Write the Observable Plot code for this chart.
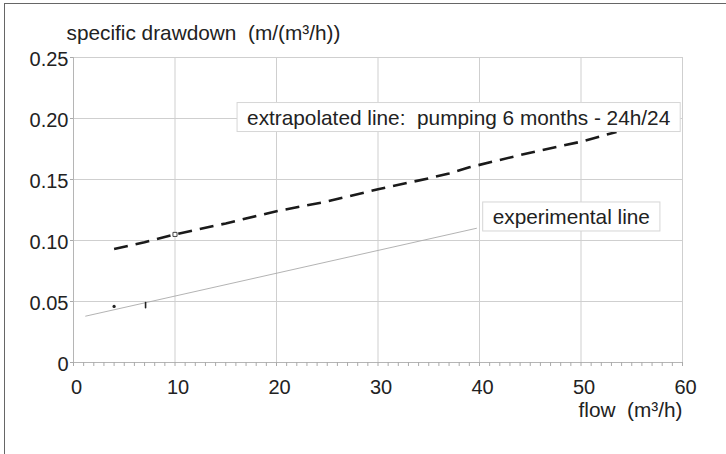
<!DOCTYPE html>
<html>
<head>
<meta charset="utf-8">
<script src="https://cdn.jsdelivr.net/npm/d3@7"></script>
<script src="https://cdn.jsdelivr.net/npm/@observablehq/plot@0.6"></script>
<style>
  html, body { margin: 0; padding: 0; background: #fff; overflow: hidden; width: 726px; height: 454px; }
  #wrap { position: relative; width: 726px; height: 454px; }
  #frame { position: absolute; left: 4px; top: 3px; width: 800px; height: 600px; border: 1.5px solid #666; box-sizing: border-box; pointer-events: none; }
  #chart { position: absolute; left: 0; top: 0; }
</style>
</head>
<body>
<div id="wrap"><div id="chart"></div><div id="frame"></div></div>
<script>
// Extrapolated line (pumping 6 months - 24h/24)
const extrapX = [4, 7, 10, 15, 20, 25, 30, 35, 37, 39, 45, 50, 53.5];
const extrapY = [0.093, 0.0985, 0.105, 0.114, 0.124, 0.132, 0.142, 0.151, 0.155, 0.160, 0.172, 0.181, 0.189];
// Experimental line
const expLineX = [1.2, 39.7];
const expLineY = [0.038, 0.110];
// Measured points
const pointDotX = [4];
const pointDotY = [0.046];
const pointTickX = [7.1];
const pointTickY = [0.047];
const markX = [10];
const markY = [0.105];
// Ticks
const xTicks = [0, 10, 20, 30, 40, 50, 60];
const xMinorTicks = d3.range(0, 61, 1);
const yTicks = [0, 0.05, 0.10, 0.15, 0.20, 0.25];
// Labels
const yTitle = "specific drawdown  (m/(m³/h))";
const xTitle = "flow  (m³/h)";
const annLabels = ["extrapolated line:  pumping 6 months - 24h/24", "experimental line"];
const annX = [17.1, 41.3];
const annY = [0.2005, 0.119];

const extrap = extrapX.map((x, i) => ({x, y: extrapY[i]}));
const expLine = expLineX.map((x, i) => ({x, y: expLineY[i]}));
const dots = pointDotX.map((x, i) => ({x, y: pointDotY[i]}));
const ticksP = pointTickX.map((x, i) => ({x, y: pointTickY[i]}));
const marks = markX.map((x, i) => ({x, y: markY[i]}));
const anns = annLabels.map((t, i) => ({t, x: annX[i], y: annY[i]}));

const fmtY = d => d === 0 ? "0" : d.toFixed(2);
const gridColor = "#cfcfcf";
const labelSize = 20.8;

const chart = Plot.plot({
  width: 726,
  height: 454,
  marginLeft: 73,
  marginRight: 44,
  marginTop: 57,
  marginBottom: 92,
  x: {domain: [0, 60], label: null},
  y: {domain: [0, 0.25], label: null},
  style: {fontFamily: "'Liberation Sans', Arial, sans-serif", fontSize: "20px", color: "#222", background: "transparent"},
  marks: [
    Plot.gridX(xTicks.filter(d => d > 0), {stroke: gridColor, strokeOpacity: 1}),
    Plot.gridY(yTicks.filter(d => d > 0), {stroke: gridColor, strokeOpacity: 1}),
    Plot.ruleY([0], {stroke: "#b5b5b5"}),
    Plot.ruleX([0], {stroke: "#b5b5b5"}),
    Plot.axisX(xMinorTicks, {tickSize: 4, tickFormat: () => "", stroke: "#aaa", label: null}),
    Plot.axisX(xTicks, {tickSize: 0, tickPadding: 17, dx: 3, tickFormat: d => String(d), label: null, fill: "#222"}),
    Plot.axisY(yTicks, {tickSize: 3, tickFormat: () => "", stroke: "#aaa", label: null}),
    Plot.axisY(yTicks, {tickSize: 0, tickPadding: 5, dy: 2, tickFormat: fmtY, label: null, fill: "#222"}),
    Plot.line(expLine, {x: "x", y: "y", stroke: "#aaa", strokeWidth: 0.9}),
    Plot.line(extrap, {x: "x", y: "y", stroke: "#1a1a1a", strokeWidth: 2.6, strokeDasharray: "14 8", strokeLinecap: "butt"}),
    Plot.dot(dots, {x: "x", y: "y", r: 1.6, fill: "#222", stroke: null}),
    Plot.vector(ticksP, {x: "x", y: "y", length: 5, anchor: "middle", stroke: "#222", strokeWidth: 1.6,
      shape: {draw(context, l) { context.moveTo(0, 0); context.lineTo(0, -l); }}}),
    Plot.dot(marks, {x: "x", y: "y", symbol: "square", r: 2.3, fill: "#fff", stroke: "#444", strokeWidth: 1}),
    Plot.text(anns, {x: "x", y: "y", text: "t", textAnchor: "start", fill: "#222", fontSize: labelSize, className: "boxlabel"}),
    Plot.text([yTitle], {frameAnchor: "top-left", textAnchor: "start", lineAnchor: "bottom", dx: -7, dy: -18, fill: "#222", fontSize: labelSize}),
    Plot.text([xTitle], {frameAnchor: "bottom-right", textAnchor: "end", lineAnchor: "bottom", dx: 0, dy: 54, fill: "#222", fontSize: labelSize})
  ]
});
document.getElementById("chart").appendChild(chart);

// draw boxes behind annotation labels
const ns = "http://www.w3.org/2000/svg";
chart.querySelectorAll(".boxlabel text").forEach(t => {
  const b = t.getBBox();
  const r = document.createElementNS(ns, "rect");
  r.setAttribute("x", b.x - 10);
  r.setAttribute("y", b.y + b.height / 2 - 14.5);
  r.setAttribute("width", b.width + 20);
  r.setAttribute("height", 29);
  r.setAttribute("fill", "#fff");
  r.setAttribute("stroke", "#d6d6d6");
  r.setAttribute("stroke-width", 1);
  const tf = t.getAttribute("transform");
  if (tf) r.setAttribute("transform", tf);
  t.parentNode.insertBefore(r, t);
});
</script>
</body>
</html>
